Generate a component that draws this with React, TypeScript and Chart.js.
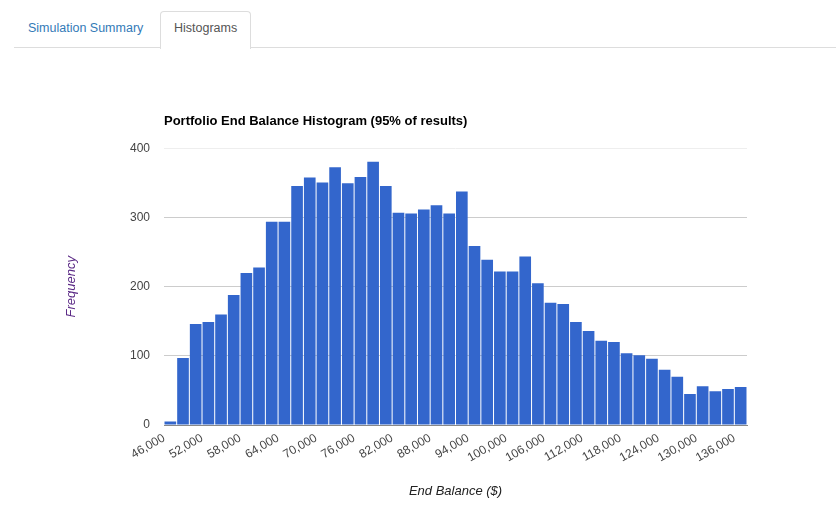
import React, { useEffect, useRef } from "react";
import { Chart, registerables } from "chart.js";

Chart.register(...registerables);

const binStarts = [
  46000, 48000, 50000, 52000, 54000, 56000, 58000, 60000, 62000, 64000,
  66000, 68000, 70000, 72000, 74000, 76000, 78000, 80000, 82000, 84000,
  86000, 88000, 90000, 92000, 94000, 96000, 98000, 100000, 102000, 104000,
  106000, 108000, 110000, 112000, 114000, 116000, 118000, 120000, 122000, 124000,
  126000, 128000, 130000, 132000, 134000, 136000,
];
const binWidth = 2000;
const frequencies = [
  5, 97, 146, 149, 160, 188, 220, 228, 294, 294,
  346, 358, 351, 373, 350, 359, 381, 346, 307, 306,
  312, 318, 306, 338, 259, 239, 222, 222, 244, 205,
  177, 175, 149, 136, 122, 120, 104, 101, 96, 80,
  70, 45, 56, 49, 52, 55,
];
const xTicks = [
  46000, 52000, 58000, 64000, 70000, 76000, 82000, 88000,
  94000, 100000, 106000, 112000, 118000, 124000, 130000, 136000,
];
const yTicks = [0, 100, 200, 300, 400];

const chartTitle = "Portfolio End Balance Histogram (95% of results)";
const xTitle = "End Balance ($)";
const yTitle = "Frequency";

const FONT = "'Liberation Sans', Arial, sans-serif";

function HistogramChart() {
  const ref = useRef<HTMLCanvasElement | null>(null);
  useEffect(() => {
    if (!ref.current) return;
    const chart = new Chart(ref.current, {
      type: "bar",
      data: {
        datasets: [
          {
            data: binStarts.map((b, i) => ({ x: b + binWidth / 2, y: frequencies[i] })),
            backgroundColor: "#3366cc",
            borderWidth: 0,
            categoryPercentage: 1,
            barPercentage: 0.92,
          },
        ],
      },
      options: {
        responsive: false,
        animation: false,
        layout: { padding: { top: 114, right: 89, left: 0, bottom: 0 } },
        plugins: {
          legend: { display: false },
          tooltip: { enabled: false },
          title: {
            display: true,
            text: chartTitle,
            align: "start",
            fullSize: false,
            color: "#000",
            font: { family: FONT, size: 13, weight: "bold" },
            padding: { top: 0, bottom: 19 },
          },
        },
        scales: {
          x: {
            type: "linear",
            offset: false,
            min: xTicks[0],
            max: binStarts[binStarts.length - 1] + binWidth,
            z: 1,
            afterBuildTicks: (s: any) => {
              s.ticks = xTicks.map((v) => ({ value: v }));
            },
            afterFit: (s: any) => {
              s.height = 92;
            },
            grid: { display: false, drawTicks: false, offset: false },
            border: { display: true, color: "#888", width: 1 },
            ticks: {
              autoSkip: false,
              minRotation: 30,
              maxRotation: 30,
              padding: 6,
              color: "#444",
              font: { family: FONT, size: 12 },
              callback: (v: any) => Number(v).toLocaleString("en-US"),
            },
            title: {
              display: true,
              text: xTitle,
              color: "#222",
              font: { family: FONT, size: 13, style: "italic" },
              padding: { top: 0, bottom: 18 },
            },
          },
          y: {
            min: yTicks[0],
            max: yTicks[yTicks.length - 1],
            afterBuildTicks: (s: any) => {
              s.ticks = yTicks.map((v) => ({ value: v }));
            },
            afterFit: (s: any) => {
              s.width = 164;
            },
            grid: {
              drawTicks: false,
              color: (c: any) =>
                c.tick && c.tick.value === yTicks[yTicks.length - 1] ? "#eeeeee" : "#cccccc",
            },
            border: { display: false },
            ticks: {
              padding: 14,
              color: "#444",
              font: { family: FONT, size: 12 },
            },
            title: {
              display: true,
              text: yTitle,
              color: "#5b2a86",
              font: { family: FONT, size: 13, style: "italic" },
              padding: { top: 64, bottom: 0 },
            },
          },
        },
      },
    } as any);
    return () => chart.destroy();
  }, []);
  return (
    <canvas
      ref={ref}
      width={836}
      height={517}
      style={{ position: "absolute", left: 0, top: 0, width: 836, height: 517 }}
    />
  );
}

export default function App() {
  const tabFont: React.CSSProperties = {
    position: "absolute",
    fontFamily: FONT,
    fontSize: 12.5,
    lineHeight: "16px",
    whiteSpace: "nowrap",
  };
  return (
    <div
      style={{
        position: "absolute",
        left: 0,
        top: 0,
        width: 836,
        height: 517,
        background: "#fff",
        overflow: "hidden",
      }}
    >
      <div
        style={{
          position: "absolute",
          left: 14,
          top: 47,
          width: 822,
          height: 1,
          background: "#dddddd",
        }}
      />
      <div
        style={{
          position: "absolute",
          left: 160,
          top: 11,
          width: 89,
          height: 37,
          border: "1px solid #dddddd",
          borderBottom: "none",
          borderRadius: "4px 4px 0 0",
          background: "#fff",
        }}
      />
      <div style={{ ...tabFont, left: 28, top: 20, color: "#337ab7" }}>Simulation Summary</div>
      <div style={{ ...tabFont, left: 174, top: 20, color: "#555555" }}>Histograms</div>
      <HistogramChart />
    </div>
  );
}
